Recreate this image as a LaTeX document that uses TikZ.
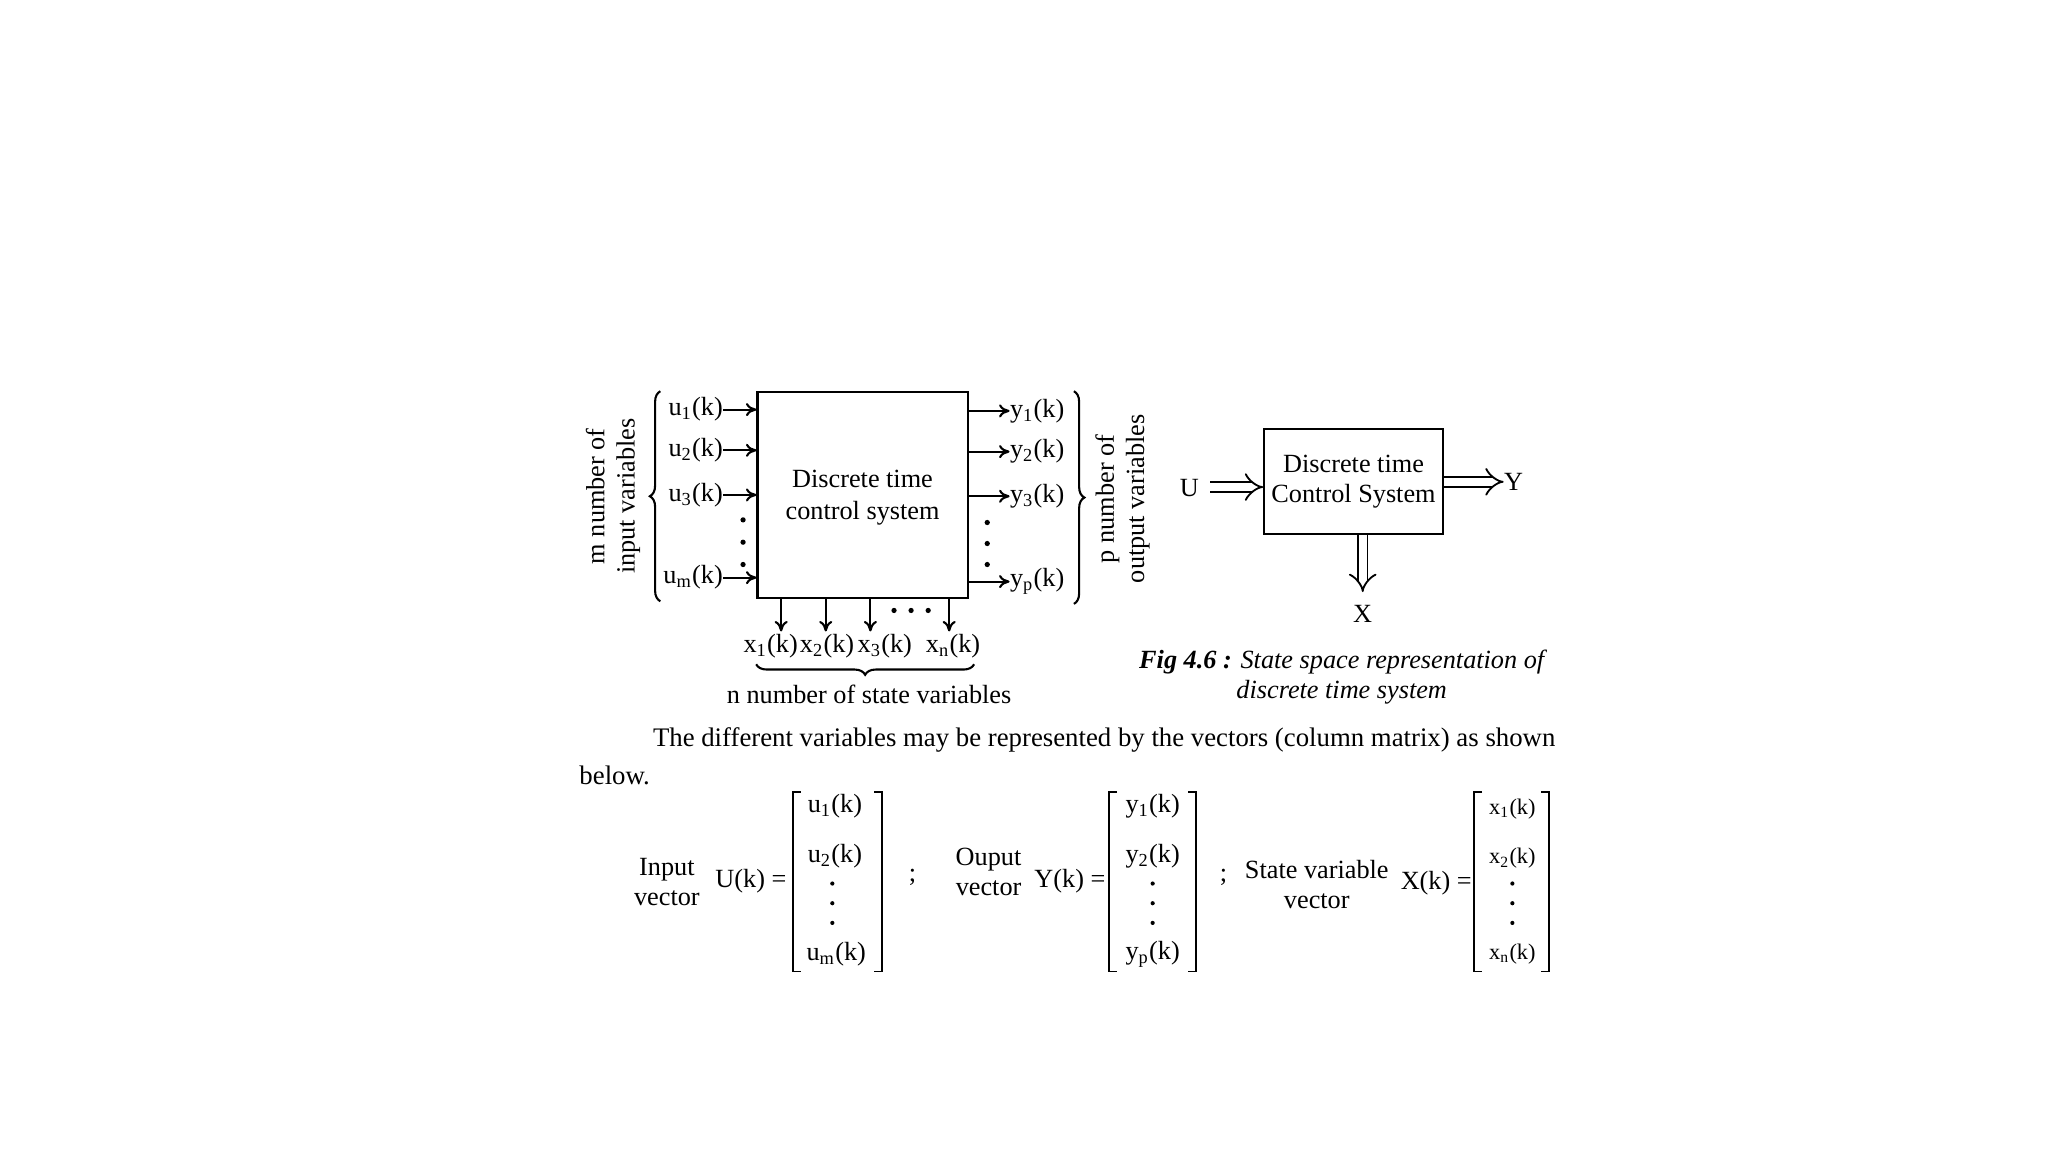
\documentclass[tikz,border=0pt]{standalone}
\usepackage{fontspec}
\setmainfont{Liberation Serif}
\usetikzlibrary{arrows.meta,decorations.pathreplacing}
\newcommand{\sbs}[1]{\textsubscript{#1}}
\begin{document}
\begin{tikzpicture}[x=0.5pt,y=-0.5pt,font=\fontsize{10}{11.5}\selectfont,
  every node/.style={inner sep=0pt},
  ln/.style={line width=0.8pt},
  ar/.style={ln,-{To[length=4pt,width=5pt]}},
  dbl/.style={double,double distance=3pt,line width=0.7pt,-{Implies}},
  brk/.style={line width=0.7pt}]
\useasboundingbox (0,0) rectangle (1560,877.5);
% left system box
\node[draw,ln,minimum width=80pt,minimum height=78.5pt] (sys) at (657,377) {};
\node[align=center,font=\fontsize{10}{12}\selectfont] (syst) at (657,379) {Discrete time\\control system};
% inputs
\foreach \n/\t/\y in {u1/u\sbs{1}(k)/312,u2/u\sbs{2}(k)/343,u3/u\sbs{3}(k)/377,um/u\sbs{m}(k)/440}{
  \node[anchor=east] (\n) at (551,\y) {\t};
  \coordinate (\n e) at (sys.west |- 0,\y);
  \draw[ar] (\n) -- (\n e);
}
\foreach \y in {396,413,430} \fill (566,\y) circle (1pt);
\draw[decorate,decoration={brace,amplitude=4pt},ln] (503,458) -- (503,298);
\node[rotate=90,align=center] (mlab) at (467,378) {m number of\\input variables};
% outputs
\foreach \n/\t/\y in {y1/y\sbs{1}(k)/313,y2/y\sbs{2}(k)/344,y3/y\sbs{3}(k)/378,yp/y\sbs{p}(k)/443}{
  \node[anchor=west] (\n) at (769,\y) {\t};
  \coordinate (\n s) at (sys.east |- 0,\y);
  \draw[ar] (\n s) -- (\n);
}
\foreach \y in {398,414,430} \fill (752,\y) circle (1pt);
\draw[decorate,decoration={brace,amplitude=4pt},ln] (818,298) -- (818,460);
\node[rotate=90,align=center] (plab) at (855,380) {p number of\\output variables};
% states
\foreach \n/\t/\x/\lx in {x1/x\sbs{1}(k)/595/587,x2/x\sbs{2}(k)/629/630,x3/x\sbs{3}(k)/663/674,xn/x\sbs{n}(k)/723/726}{
  \coordinate (\n s) at (sys.south -| \x,0);
  \coordinate (\n e) at (\x,481);
  \draw[ar] (\n s) -- (\n e);
  \node (\n) at (\lx,492) {\t};
}
\foreach \x in {681,694,707} \fill (\x,465) circle (1pt);
\draw[decorate,decoration={brace,amplitude=4pt},ln] (742,506) -- (576,506);
\node (nlab) at (662,529) {n number of state variables};
% right block
\node[draw,ln,minimum width=68pt,minimum height=40pt,align=center] (cs) at (1031,367) {Discrete time\\Control System};
\node (U) at (906,372) {U};
\node (Y) at (1153,367) {Y};
\node (X) at (1038,468) {X};
\coordinate (ua) at (922,371);
\coordinate (xa) at (1038,451);
\draw[dbl] (ua) -- (cs.west |- ua);
\draw[dbl] (cs.east |- Y) -- (Y.west);
\draw[dbl] (cs.south -| xa) -- (xa);
\node[align=center,font=\fontsize{10}{11.5}\selectfont\itshape] (cap) at (1022,516)
  {\textbf{Fig 4.6 :} State space representation of\\discrete time system};
% paragraph
\node[anchor=west,font=\fontsize{10.2}{12}\selectfont] (p1) at (497,564) {The different variables may be represented by the vectors (column matrix) as shown};
\node[anchor=west,font=\fontsize{10.2}{12}\selectfont] (p2) at (441,591) {below.};
% vectors
\node[align=center] (iv) at (508,672) {Input\\vector};
\node (Uk) at (572,671) {U(k) =};
\draw[brk] (610,603) -- (604,603) -- (604,740) -- (610,740);
\draw[brk] (666,603) -- (672,603) -- (672,740) -- (666,740);
\node (ue1) at (636,614) {u\sbs{1}(k)};
\node (ue2) at (636,652) {u\sbs{2}(k)};
\node (uem) at (637,727) {u\sbs{m}(k)};
\foreach \y in {673,688,703} \fill (634,\y) circle (0.8pt);
\node (s1) at (695,668) {;};
\node[align=center] (ov) at (753,664) {Ouput\\vector};
\node (Yk) at (815,671) {Y(k) =};
\draw[brk] (851,603) -- (845,603) -- (845,740) -- (851,740);
\draw[brk] (905,603) -- (911,603) -- (911,740) -- (905,740);
\node (ye1) at (878,614) {y\sbs{1}(k)};
\node (ye2) at (878,652) {y\sbs{2}(k)};
\node (yep) at (878,727) {y\sbs{p}(k)};
\foreach \y in {673,688,703} \fill (878,\y) circle (0.8pt);
\node (s2) at (932,668) {;};
\node[align=center] (sv) at (1003,674) {State variable\\vector};
\node (Xk) at (1094,673) {X(k) =};
\draw[brk] (1129,603) -- (1123,603) -- (1123,740) -- (1129,740);
\draw[brk] (1174,603) -- (1180,603) -- (1180,740) -- (1174,740);
\node[font=\fontsize{8.5}{10}\selectfont] (xe1) at (1152,616) {x\sbs{1}(k)};
\node[font=\fontsize{8.5}{10}\selectfont] (xe2) at (1152,654) {x\sbs{2}(k)};
\node[font=\fontsize{8.5}{10}\selectfont] (xen) at (1152,727) {x\sbs{n}(k)};
\foreach \y in {673,688,703} \fill (1152,\y) circle (0.8pt);
\end{tikzpicture}
\end{document}
